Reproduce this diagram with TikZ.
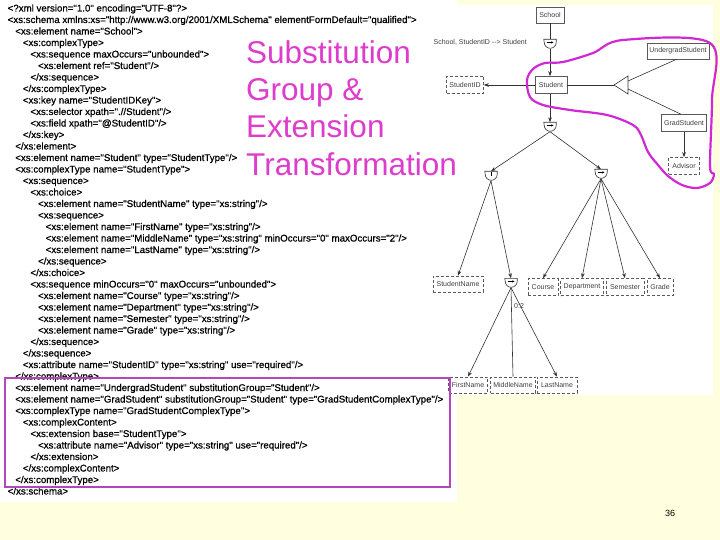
\documentclass[tikz,border=0pt]{standalone}
\usepackage{fontspec}
\setmainfont{Liberation Sans}
\newfontfamily\codefam[FakeBold=0.7]{Liberation Sans}
\usetikzlibrary{arrows.meta,calc}
\definecolor{bgyellow}{RGB}{255,255,224}
\definecolor{boxmag}{RGB}{178,70,190}
\definecolor{titlemag}{RGB}{221,60,204}
\definecolor{loopmag}{RGB}{208,40,212}
\newcommand\codefnt{\codefam\fontsize{9.7}{11}\selectfont}
\newcommand\diagfnt{\fontsize{7}{8}\selectfont}
\newcommand\codeline[4]{\node[codetext] (#1) at ({7.5+7.6*#2},{11.5+11.5*(#3-1)}) {#4};}
\newcommand\compshape[1]{%
  \draw[conn,fill=white] (#1.north west) -- (#1.north east) -- ($(#1.north east)+(0,3)$)
    arc[start angle=0,end angle=180,x radius=6,y radius=6] -- cycle;}
\newcommand\seqmark[1]{%
  \draw[line width=0.5pt,-{Stealth[length=2.5pt,width=2.2pt]}] ($(#1.center)+(-3.5,-1.6)$) -- ($(#1.center)+(3.5,-1.6)$);}
\newcommand\choicemark[1]{%
  \draw[line width=0.7pt] ($(#1.center)+(0,-3.5)$) -- ($(#1.center)+(0,0.5)$);}
\tikzset{
  codetext/.style={anchor=base west, inner sep=0pt, font=\codefnt, text=black},
  titletext/.style={anchor=base west, inner sep=0pt, font=\fontsize{31.5}{37}\selectfont, text=titlemag},
  ebox/.style={draw=black!65, line width=0.6pt, font=\diagfnt, text=black!75, inner sep=0pt, minimum height=16pt, fill=white},
  dbox/.style={ebox, densely dashed},
  comp/.style={minimum width=12pt, minimum height=9pt, inner sep=0pt},
  conn/.style={draw=black!80, line width=0.6pt},
  arr/.style={conn, -{Stealth[length=5pt,width=3.6pt]}},
  lbl/.style={font=\diagfnt, text=black!75, inner sep=0pt},
}
\begin{document}
\begin{tikzpicture}[x=1pt,y=-1pt]
\useasboundingbox (0,0) rectangle (720,540);
% backgrounds
\fill[bgyellow] (0,0) rectangle (720,540);
\fill[white] (0,0) rectangle (457,502);
\fill[white] (430,5) rectangle (713,395);
% code
\codeline{c1}{0}{1}{<?xml version="1.0" encoding="UTF-8"?>}
\codeline{c2}{0}{2}{<xs:schema xmlns:xs="http://www.w3.org/2001/XMLSchema" elementFormDefault="qualified">}
\codeline{c3}{1}{3}{<xs:element name="School">}
\codeline{c4}{2}{4}{<xs:complexType>}
\codeline{c5}{3}{5}{<xs:sequence maxOccurs="unbounded">}
\codeline{c6}{4}{6}{<xs:element ref="Student"/>}
\codeline{c7}{3}{7}{</xs:sequence>}
\codeline{c8}{2}{8}{</xs:complexType>}
\codeline{c9}{2}{9}{<xs:key name="StudentIDKey">}
\codeline{c10}{3}{10}{<xs:selector xpath=".//Student"/>}
\codeline{c11}{3}{11}{<xs:field xpath="@StudentID"/>}
\codeline{c12}{2}{12}{</xs:key>}
\codeline{c13}{1}{13}{</xs:element>}
\codeline{c14}{1}{14}{<xs:element name="Student" type="StudentType"/>}
\codeline{c15}{1}{15}{<xs:complexType name="StudentType">}
\codeline{c16}{2}{16}{<xs:sequence>}
\codeline{c17}{3}{17}{<xs:choice>}
\codeline{c18}{4}{18}{<xs:element name="StudentName" type="xs:string"/>}
\codeline{c19}{4}{19}{<xs:sequence>}
\codeline{c20}{5}{20}{<xs:element name="FirstName" type="xs:string"/>}
\codeline{c21}{5}{21}{<xs:element name="MiddleName" type="xs:string" minOccurs="0" maxOccurs="2"/>}
\codeline{c22}{5}{22}{<xs:element name="LastName" type="xs:string"/>}
\codeline{c23}{4}{23}{</xs:sequence>}
\codeline{c24}{3}{24}{</xs:choice>}
\codeline{c25}{3}{25}{<xs:sequence minOccurs="0" maxOccurs="unbounded">}
\codeline{c26}{4}{26}{<xs:element name="Course" type="xs:string"/>}
\codeline{c27}{4}{27}{<xs:element name="Department" type="xs:string"/>}
\codeline{c28}{4}{28}{<xs:element name="Semester" type="xs:string"/>}
\codeline{c29}{4}{29}{<xs:element name="Grade" type="xs:string"/>}
\codeline{c30}{3}{30}{</xs:sequence>}
\codeline{c31}{2}{31}{</xs:sequence>}
\codeline{c32}{2}{32}{<xs:attribute name="StudentID" type="xs:string" use="required"/>}
\codeline{c33}{1}{33}{</xs:complexType>}
\codeline{c34}{1}{34}{<xs:element name="UndergradStudent" substitutionGroup="Student"/>}
\codeline{c35}{1}{35}{<xs:element name="GradStudent" substitutionGroup="Student" type="GradStudentComplexType"/>}
\codeline{c36}{1}{36}{<xs:complexType name="GradStudentComplexType">}
\codeline{c37}{2}{37}{<xs:complexContent>}
\codeline{c38}{3}{38}{<xs:extension base="StudentType">}
\codeline{c39}{4}{39}{<xs:attribute name="Advisor" type="xs:string" use="required"/>}
\codeline{c40}{3}{40}{</xs:extension>}
\codeline{c41}{2}{41}{</xs:complexContent>}
\codeline{c42}{1}{42}{</xs:complexType>}
\codeline{c43}{0}{43}{</xs:schema>}
% diagram nodes
\node[ebox, minimum width=28pt] (school) at (550,15) {School};
\node[lbl, anchor=east] (keylbl) at (527,42) {School, StudentID -{}-> Student};
\node[comp] (q1) at (550,44) {};
\node[ebox, minimum width=32pt, minimum height=17pt] (student) at (551,85) {Student};
\node[dbox, minimum width=37pt, minimum height=17pt] (sid) at (465,85) {StudentID};
\coordinate (tA) at (614,85);
\coordinate (tB1) at (628,76);
\coordinate (tB2) at (628,94);
\coordinate (tU) at (628,81);
\coordinate (tG) at (628,89);
\node[ebox, minimum width=62pt] (under) at (678,51) {UndergradStudent};
\node[ebox, minimum width=45pt, minimum height=17pt] (grad) at (684,123) {GradStudent};
\node[dbox, minimum width=31pt, minimum height=17pt] (adv) at (684,166) {Advisor};
\node[comp] (q2) at (550,127) {};
\node[comp] (q3) at (491,176) {};
\node[comp] (q4) at (601,174) {};
\node[dbox, minimum width=50pt] (sname) at (458,284) {StudentName};
\node[comp] (q5) at (511,283) {};
\node[lbl, anchor=west] (occ) at (514,306) {0:2};
\node[dbox, minimum width=39pt] (first) at (468,385) {FirstName};
\node[dbox, minimum width=45pt] (middle) at (513,385) {MiddleName};
\node[dbox, minimum width=40pt] (last) at (557,385) {LastName};
\node[dbox, minimum width=30pt, minimum height=17pt] (course) at (543,287) {Course};
\node[dbox, minimum width=43pt, minimum height=17pt] (dept) at (582,287) {Department};
\node[dbox, minimum width=38pt, minimum height=17pt] (sem) at (625,287) {Semester};
\node[dbox, minimum width=26pt, minimum height=17pt] (grade) at (660,287) {Grade};
% connectors
\draw[conn] (school.south -| q1) -- (q1.north);
\draw[arr] (q1.south) -- (q1.south |- student.north);
\draw[arr] (student) -- (sid);
\draw[conn] (student) -- (tA);
\draw[conn,fill=white] (tA) -- (tB1) -- (tB2) -- cycle;
\draw[conn] (tU) -- (under.-100);
\draw[conn] (tG) -- (grad.110);
\draw[arr] (grad) -- (adv);
\draw[arr] (q2.north |- student.south) -- (q2.north);
\draw[arr] (q2.south) -- (q3.north);
\draw[arr] (q2.south) -- (q4.north);
\draw[arr] (q3.south) -- (sname.north);
\draw[arr] (q3.south) -- (q5.north);
\draw[arr] (q5.south) -- (first.north);
\draw[conn] (q5.south) -- (middle.north);
\draw[arr] (q5.south) -- (last.north);
\draw[arr] (q4.south) -- (course.north);
\draw[arr] (q4.south) -- (dept.north);
\draw[arr] (q4.south) -- (sem.north);
\draw[arr] (q4.south) -- (grade.north);
% compositor symbols
\compshape{q1}\seqmark{q1}
\compshape{q2}\seqmark{q2}
\compshape{q3}\choicemark{q3}
\compshape{q4}\seqmark{q4}
\compshape{q5}\seqmark{q5}
% highlight box and loop
\draw[boxmag, line width=2.6pt] (5,378) rectangle (450,487);
\draw[loopmag, line width=2.2pt, line join=round] plot[smooth cycle, tension=0.55] coordinates {
 (710,43) (623,40) (593,53) (563,62) (545,63) (533,69) (527,80) (530,97) (543,105)
 (570,110) (607,115) (633,125) (641,135) (648,152) (658,165) (668,176) (682,185)
 (697,188) (710,183) (714,174) (710,166) (712,100)};
% title
\node[titletext] (t1) at (246,64) {Substitution};
\node[titletext] (t2) at (246,101) {Group \&};
\node[titletext] (t3) at (246,138) {Extension};
\node[titletext] (t4) at (246,176) {Transformation};
% page number
\node[font=\fontsize{9}{10}\selectfont, inner sep=0pt] (pnum) at (670,513) {36};
\end{tikzpicture}
\end{document}
